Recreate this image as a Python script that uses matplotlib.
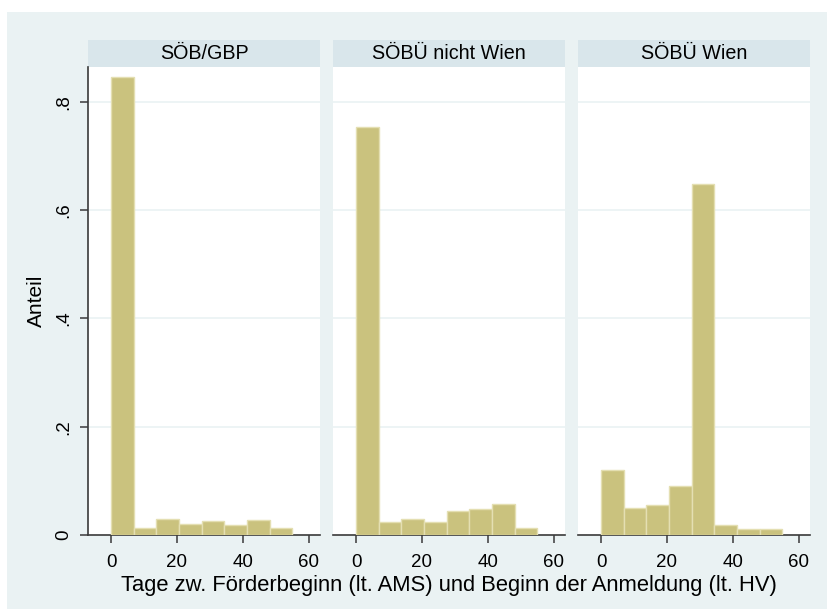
import matplotlib
matplotlib.use("Agg")
import matplotlib.pyplot as plt
from matplotlib.patches import Rectangle
import numpy as np

plt.rcParams['font.family'] = ['Liberation Sans', 'DejaVu Sans']

# Histogram data: share of cases per bin (8 bins from 0 to 55 days)
bin_lo = 0.0
bin_hi = 55.0
n_bins = 8
groups = ["SÖB/GBP", "SÖBÜ nicht Wien", "SÖBÜ Wien"]
share_soeb_gbp = [0.845, 0.0135, 0.0295, 0.021, 0.026, 0.019, 0.028, 0.0124]
share_soebue_nicht_wien = [0.754, 0.0246, 0.029, 0.0246, 0.0443, 0.048, 0.0573, 0.0124]
share_soebue_wien = [0.12, 0.0505, 0.055, 0.09, 0.648, 0.018, 0.0105, 0.012]
shares = [share_soeb_gbp, share_soebue_nicht_wien, share_soebue_wien]

x_ticks = [0, 20, 40, 60]
y_ticks = [0, 0.2, 0.4, 0.6, 0.8]
y_ticklabels = ["0", ".2", ".4", ".6", ".8"]
x_label = "Tage zw. Förderbeginn (lt. AMS) und Beginn der Anmeldung (lt. HV)"
y_label = "Anteil"

W, H = 827, 609
fig = plt.figure(figsize=(W / 100, H / 100), dpi=100, facecolor="white")

bg = "#EAF2F3"
strip_col = "#D9E6EB"
bar_col = "#CAC27E"
bar_edge = "#E4DFB2"
axis_col = "#3A3A3A"

# outer graph region
fig.patches.append(Rectangle((7 / W, 0), 1 - 7 / W, 1 - 12 / H,
                             transform=fig.transFigure, facecolor=bg,
                             edgecolor="none", zorder=-10))

panel_left = [88, 333, 578]
panel_w = 232
plot_top, plot_bot = 67, 535
strip_h = 27

edges = np.linspace(bin_lo, bin_hi, n_bins + 1)
width = edges[1] - edges[0]

for i, (name, vals) in enumerate(zip(groups, shares)):
    x0 = panel_left[i]
    ax = fig.add_axes([x0 / W, 1 - plot_bot / H, panel_w / W, (plot_bot - plot_top) / H])
    ax.set_facecolor("white")
    ax.bar(edges[:-1], vals, width=width, align="edge", color=bar_col,
           edgecolor=bar_edge, linewidth=1.0, zorder=3)
    ax.set_xlim(-7.0, 63.4)
    ax.set_ylim(0, 0.864)
    for yv in y_ticks[1:]:
        ax.axhline(yv, color=bg, lw=1.2, zorder=1)
    for s in ["top", "right"]:
        ax.spines[s].set_visible(False)
    ax.spines["bottom"].set_color(axis_col)
    ax.spines["bottom"].set_linewidth(1.2)
    ax.set_xticks(x_ticks)
    ax.set_xticklabels([str(t) for t in x_ticks], fontsize=13.5)
    ax.tick_params(axis="x", direction="out", length=6, width=1.1,
                   color=axis_col, pad=8)
    if i == 0:
        ax.spines["left"].set_color(axis_col)
        ax.spines["left"].set_linewidth(1.2)
        ax.set_yticks(y_ticks)
        ax.set_yticklabels(y_ticklabels, fontsize=13.5, rotation=90, va="center")
        ax.tick_params(axis="y", direction="out", length=6, width=1.1,
                       color=axis_col, pad=5)
        ax.set_ylabel(y_label, fontsize=15, labelpad=7)
    else:
        ax.spines["left"].set_visible(False)
        ax.set_yticks([])

    # panel strip header
    fig.patches.append(Rectangle((x0 / W, 1 - plot_top / H), panel_w / W, strip_h / H,
                                 transform=fig.transFigure, facecolor=strip_col,
                                 edgecolor="none", zorder=-5))
    fig.text((x0 + panel_w / 2) / W, 1 - (plot_top - strip_h / 2) / H, name,
             ha="center", va="center", fontsize=14.2)

fig.text((panel_left[0] + (panel_left[2] + panel_w - panel_left[0]) / 2) / W,
         1 - 586 / H, x_label, ha="center", va="center", fontsize=15.8)

fig.savefig("out.png", dpi=100, facecolor="white")
